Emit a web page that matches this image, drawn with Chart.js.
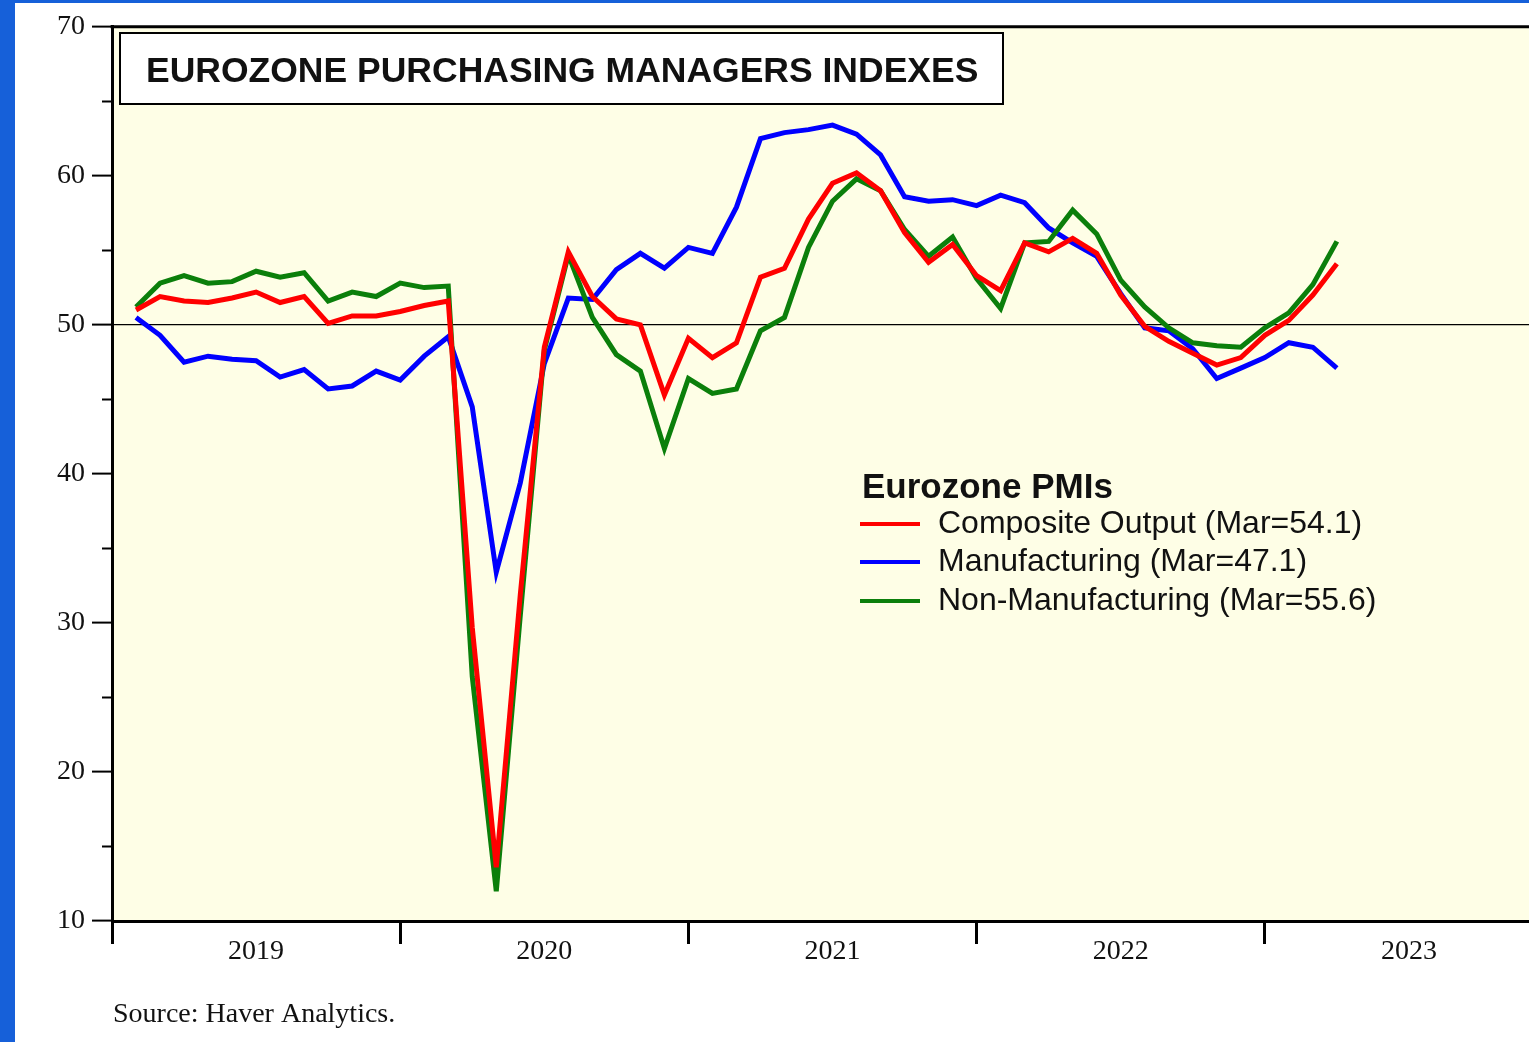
<!DOCTYPE html>
<html>
<head>
<meta charset="utf-8">
<script src="https://cdn.jsdelivr.net/npm/chart.js@4.4.0/dist/chart.umd.min.js"></script>
<style>
  html, body { margin: 0; padding: 0; background: #1660d9; overflow: hidden; }
  #wrap { position: absolute; left: 15px; top: 3px; width: 1514px; height: 1039px; background: #fff; overflow: hidden; }
</style>
</head>
<body>
<div id="wrap"><canvas id="pmi" width="1514" height="1039"></canvas></div>
<script>
// monthly readings, Jan 2019 .. Mar 2023
const composite = [
    51.0, 51.9, 51.6, 51.5, 51.8, 52.2, 51.5, 51.9, 50.1, 50.6, 50.6, 50.9,
    51.3, 51.6, 29.7, 13.6, 31.9, 48.5, 54.9, 51.9, 50.4, 50.0, 45.3, 49.1,
    47.8, 48.8, 53.2, 53.8, 57.1, 59.5, 60.2, 59.0, 56.2, 54.2, 55.4, 53.3,
    52.3, 55.5, 54.9, 55.8, 54.8, 52.0, 49.9, 48.9, 48.1, 47.3, 47.8, 49.3,
    50.3, 52.0, 54.1
];
const manufacturing = [
    50.5, 49.3, 47.5, 47.9, 47.7, 47.6, 46.5, 47.0, 45.7, 45.9, 46.9, 46.3,
    47.9, 49.2, 44.5, 33.4, 39.4, 47.4, 51.8, 51.7, 53.7, 54.8, 53.8, 55.2,
    54.8, 57.9, 62.5, 62.9, 63.1, 63.4, 62.8, 61.4, 58.6, 58.3, 58.4, 58.0,
    58.7, 58.2, 56.5, 55.5, 54.6, 52.1, 49.8, 49.6, 48.4, 46.4, 47.1, 47.8,
    48.8, 48.5, 47.1
];
const nonManufacturing = [
    51.2, 52.8, 53.3, 52.8, 52.9, 53.6, 53.2, 53.5, 51.6, 52.2, 51.9, 52.8,
    52.5, 52.6, 26.4, 12.0, 30.5, 48.3, 54.7, 50.5, 48.0, 46.9, 41.7, 46.4,
    45.4, 45.7, 49.6, 50.5, 55.2, 58.3, 59.8, 59.0, 56.4, 54.6, 55.9, 53.1,
    51.1, 55.5, 55.6, 57.7, 56.1, 53.0, 51.2, 49.8, 48.8, 48.6, 48.5, 49.8,
    50.8, 52.7, 55.6
];
const years = ['2019', '2020', '2021', '2022', '2023'];
const yearMid = [6, 18, 30, 42, 54];   // months from Jan 2019
const minorTicks = [15, 25, 35, 45, 55, 65];
const legendTitle = 'Eurozone PMIs';
const legendLabels = ['Composite Output (Mar=54.1)', 'Manufacturing (Mar=47.1)', 'Non-Manufacturing (Mar=55.6)'];
const legendColors = ['#ff0000', '#0000ff', '#0b7f0b'];
const chartTitle = 'EUROZONE PURCHASING MANAGERS INDEXES';
const sourceText = 'Source: Haver Analytics.';

function toPoints(arr) {
    return arr.map((v, i) => ({ x: i + 1, y: v }));
}

const plotBg = {
    id: 'plotBg',
    beforeDraw(chart) {
        const { ctx, chartArea: a } = chart;
        ctx.save();
        ctx.fillStyle = '#fefee6';
        ctx.fillRect(a.left, a.top, a.right - a.left, a.bottom - a.top);
        ctx.restore();
    }
};

const extras = {
    id: 'extras',
    afterDraw(chart) {
        const { ctx, chartArea: a } = chart;
        const y = chart.scales.y;
        ctx.save();
        // top frame line
        ctx.strokeStyle = '#000';
        ctx.lineWidth = 3;
        ctx.beginPath();
        ctx.moveTo(a.left - 1.5, a.top);
        ctx.lineTo(a.right, a.top);
        ctx.stroke();
        // minor y ticks
        ctx.lineWidth = 2;
        minorTicks.forEach(v => {
            const py = Math.round(y.getPixelForValue(v)) + 0.5;
            ctx.beginPath();
            ctx.moveTo(a.left - 10, py);
            ctx.lineTo(a.left, py);
            ctx.stroke();
        });
        // title box
        ctx.fillStyle = '#fff';
        ctx.fillRect(105, 30, 883, 71);
        ctx.lineWidth = 2;
        ctx.strokeRect(105, 30, 883, 71);
        ctx.fillStyle = '#111';
        ctx.font = 'bold 35.5px "Liberation Sans", Arial, sans-serif';
        ctx.textBaseline = 'alphabetic';
        ctx.fillText(chartTitle, 131, 79);
        // legend
        ctx.font = 'bold 35px "Liberation Sans", Arial, sans-serif';
        ctx.textBaseline = 'middle';
        ctx.fillText(legendTitle, 847, 485);
        ctx.font = '32px "Liberation Sans", Arial, sans-serif';
        const rowY = [521, 559, 598];
        legendLabels.forEach((t, i) => {
            ctx.strokeStyle = legendColors[i];
            ctx.lineWidth = 4;
            ctx.beginPath();
            ctx.moveTo(845, rowY[i]);
            ctx.lineTo(905, rowY[i]);
            ctx.stroke();
            ctx.fillStyle = '#111';
            ctx.fillText(t, 923, rowY[i]);
        });
        // source
        ctx.font = '28px "Liberation Serif", "Times New Roman", serif';
        ctx.textBaseline = 'alphabetic';
        ctx.fillText(sourceText, 98, 1019);
        ctx.restore();
    }
};

new Chart(document.getElementById('pmi'), {
    type: 'line',
    data: {
        datasets: [
            { label: legendLabels[0], data: toPoints(composite), borderColor: legendColors[0] },
            { label: legendLabels[2], data: toPoints(nonManufacturing), borderColor: legendColors[2] },
            { label: legendLabels[1], data: toPoints(manufacturing), borderColor: legendColors[1] }
        ]
    },
    options: {
        responsive: false,
        animation: false,
        layout: { padding: { top: 20, left: 0, right: 0, bottom: 0 } },
        elements: {
            line: { borderWidth: 5, tension: 0, fill: false },
            point: { radius: 0 }
        },
        plugins: {
            legend: { display: false },
            tooltip: { enabled: false }
        },
        scales: {
            x: {
                type: 'linear',
                min: 0,
                max: 59,
                afterBuildTicks: scale => {
                    scale.ticks = yearMid.map(v => ({ value: v }));
                },
                afterFit: scale => { scale.height = 121; },
                ticks: {
                    callback: (v, i) => years[i],
                    color: '#111',
                    font: { family: '"Liberation Serif", "Times New Roman", serif', size: 28 },
                    padding: -9,
                    maxRotation: 0,
                    autoSkip: false
                },
                grid: {
                    offset: true,
                    drawOnChartArea: false,
                    tickLength: 23,
                    tickWidth: 3,
                    tickColor: '#000'
                },
                border: { display: true, color: '#000', width: 3 }
            },
            y: {
                min: 10,
                max: 70,
                afterFit: scale => { scale.width = 97; },
                ticks: {
                    stepSize: 10,
                    color: '#111',
                    font: { family: '"Liberation Serif", "Times New Roman", serif', size: 28 },
                    padding: 7
                },
                grid: {
                    color: ctx => (ctx.tick && ctx.tick.value === 50 ? '#000' : 'rgba(0,0,0,0)'),
                    lineWidth: 1.2,
                    tickLength: 20,
                    tickWidth: 2,
                    tickColor: '#000'
                },
                border: { display: true, color: '#000', width: 3 }
            }
        }
    },
    plugins: [plotBg, extras]
});
</script>
</body>
</html>
